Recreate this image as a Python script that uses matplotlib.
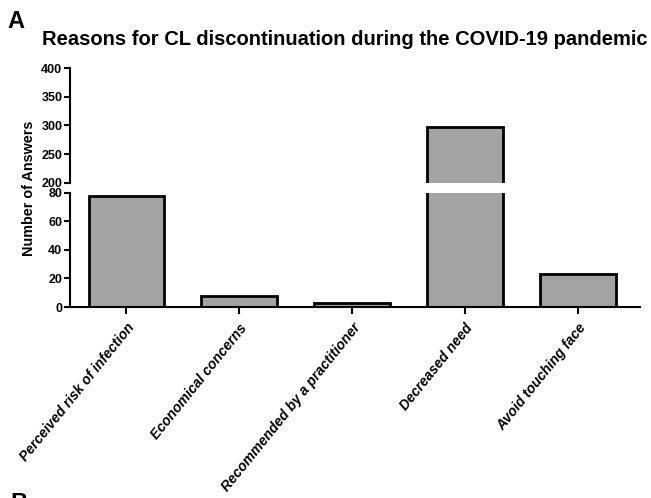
import numpy as np
import matplotlib
matplotlib.use('Agg')
import matplotlib.pyplot as plt

plt.rcParams['font.family'] = ['Liberation Sans', 'DejaVu Sans']

# Answers per reason
reasons = ['Perceived risk of infection', 'Economical concerns',
           'Recommended by a practitioner', 'Decreased need', 'Avoid touching face']
answers = [78, 8, 3, 298, 23]

upper_ticks = [200, 250, 300, 350, 400]
lower_ticks = [0, 20, 40, 60, 80]

bar_color = '#a3a3a3'
x = np.arange(len(reasons))

fig = plt.figure(figsize=(6.51, 4.98), dpi=100)
# broken y axis: two stacked axes sharing the same bars
ax_top = fig.add_axes([0.1075, 0.633, 0.8755, 0.230])
ax_bot = fig.add_axes([0.1075, 0.3835, 0.8755, 0.2295])

for ax in (ax_top, ax_bot):
    ax.bar(x, answers, width=0.67, color=bar_color, edgecolor='black', linewidth=2.0)
    ax.set_xlim(-0.5, 4.55)
    for s in ('top', 'right'):
        ax.spines[s].set_visible(False)
    ax.spines['left'].set_linewidth(1.5)
    ax.tick_params(axis='y', direction='out', length=4, width=1.5, labelsize=9, pad=1.5)

ax_top.set_ylim(200, 400)
ax_top.set_yticks(upper_ticks)
ax_top.spines['bottom'].set_visible(False)
ax_top.tick_params(axis='x', bottom=False, labelbottom=False)
for lbl in ax_top.get_yticklabels():
    lbl.set_fontweight('bold')

ax_bot.set_ylim(0, 80)
ax_bot.set_yticks(lower_ticks)
ax_bot.spines['bottom'].set_linewidth(1.5)
ax_bot.set_xticks(x)
ax_bot.set_xticklabels(reasons, rotation=51, ha='right', rotation_mode='anchor',
                       fontsize=10, fontweight='bold', fontstyle='italic')
ax_bot.tick_params(axis='x', direction='out', length=5, width=1.5, pad=5)
for lbl in ax_bot.get_yticklabels():
    lbl.set_fontweight('bold')

fig.text(0.045, 0.622, 'Number of Answers', rotation=90, ha='center', va='center',
         fontsize=10.4, fontweight='bold')
fig.text(0.529, 0.921, 'Reasons for CL discontinuation during the COVID-19 pandemic',
         ha='center', va='center', fontsize=14.5, fontweight='bold')
fig.text(0.012, 0.957, 'A', ha='left', va='center', fontsize=17, fontweight='bold')
fig.text(0.016, -0.024, 'B', ha='left', va='baseline', fontsize=17, fontweight='bold')

fig.savefig('out.png', dpi=100, facecolor='white')
